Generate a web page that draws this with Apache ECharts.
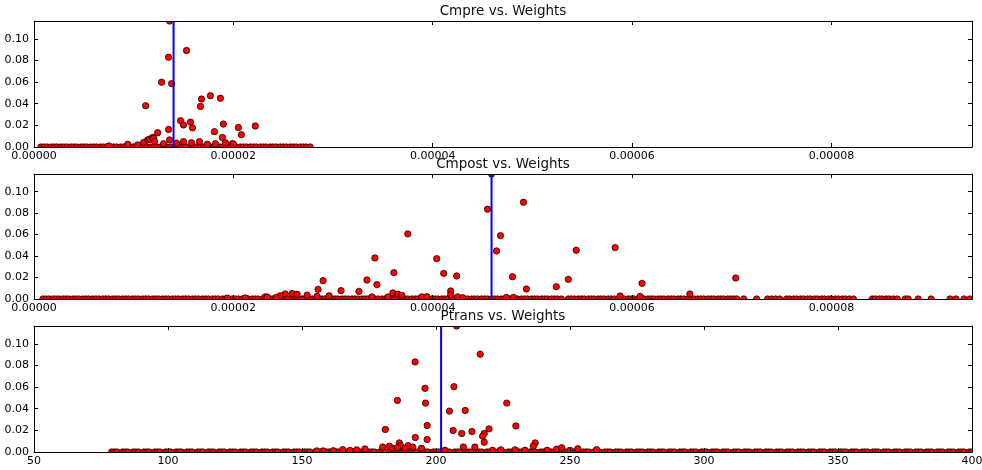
<!DOCTYPE html>
<html>
<head>
<meta charset="utf-8">
<script src="https://cdn.jsdelivr.net/npm/echarts@6/dist/echarts.min.js"></script>
<style>
  html, body { margin: 0; padding: 0; background: #fff; }
  #chart { width: 982px; height: 470px; }
</style>
</head>
<body>
<div id="chart"></div>
<script>
// Cmpre / Cmpost weights are listed in units of 1e-5.
const WEIGHT_UNIT = 1e-5;
const PROB_MAX = 0.1165;

const panelTitles = ['Cmpre vs. Weights', 'Cmpost vs. Weights', 'Ptrans vs. Weights'];

// ---- Cmpre ----
const cmprePeakX = [1.36,1.53,1.35,1.28,1.38,1.12,1.68,1.77,1.87,1.67,1.47,1.50,1.57,1.59,1.35,1.24,1.90,2.05,2.22,2.08,1.81,1.89,
  0.94,1.04,0.75,1.10,1.14,1.16,1.19,1.20,1.21,1.36,1.50,1.66,1.82,1.92,1.99,1.30,1.43,1.58,1.74,2.00];
const cmprePeakY = [0.1165,0.0892,0.0830,0.0599,0.0586,0.0382,0.0444,0.0474,0.0451,0.0375,0.0244,0.0204,0.0230,0.0177,0.0162,0.0132,0.0212,0.0180,0.0194,0.0114,0.0142,0.0088,
  0.0025,0.0020,0.0010,0.0043,0.0065,0.0072,0.0088,0.0080,0.0052,0.0065,0.0050,0.0050,0.0030,0.0040,0.0030,0.0030,0.0035,0.0040,0.0025,0.0028];
// weights whose probability is zero
const cmpreZeroX = [0.07,0.10,0.13,0.17,0.20,0.23,0.27,0.30,0.33,0.37,0.40,0.43,0.47,0.50,0.53,0.57,0.60,0.63,0.67,0.70,0.73,0.77,0.80,0.83,0.87,0.90,0.93,0.97,
  1.00,1.03,1.07,1.10,1.13,1.17,1.20,1.23,1.27,1.30,1.33,1.37,1.40,1.43,1.47,1.50,1.53,1.57,1.60,1.63,1.67,1.70,1.73,1.77,1.80,1.83,1.87,1.90,1.93,1.97,
  2.00,2.03,2.07,2.10,2.13,2.17,2.20,2.23,2.27,2.30,2.33,2.37,2.40,2.43,2.47,2.50,2.53,2.57,2.60,2.63,2.67,2.70,2.73,2.77];
const cmpreMarker = 1.40;

// ---- Cmpost ----
const cmpostPeakX = [4.59,4.55,4.91,4.68,4.64,4.80,4.94,3.75,3.42,4.04,3.61,4.11,4.24,3.34,3.44,2.90,2.85,3.08,3.26,4.18,4.18,5.24,5.36,5.44,5.83,6.10,5.88,6.08,6.58,7.04,
  3.60,3.65,3.69,2.52,2.59,2.64,2.74,2.47,2.84,2.96,2.32,2.34,3.39,3.55,3.89,3.94,4.74,4.81,2.43,1.94,2.12,4.25,4.30];
const cmpostPeakY = [0.1165,0.0837,0.0902,0.0591,0.0448,0.0208,0.0093,0.0607,0.0383,0.0376,0.0246,0.0239,0.0215,0.0177,0.0134,0.0171,0.0090,0.0078,0.0071,0.0075,0.0040,0.0115,0.0183,0.0454,0.0479,0.0146,0.0028,0.0024,0.0047,0.0196,
  0.0056,0.0045,0.0034,0.0047,0.0052,0.0044,0.0036,0.0030,0.0025,0.0030,0.0020,0.0018,0.0020,0.0018,0.0020,0.0022,0.0015,0.0015,0.0015,0.0008,0.0010,0.0020,0.0012];
const cmpostZeroX = [0.09,0.12,0.15,0.19,0.22,0.25,0.29,0.32,0.35,0.39,0.42,0.45,0.49,0.52,0.55,0.59,0.62,0.65,0.69,0.72,0.75,0.79,0.82,0.85,0.89,0.92,0.95,0.99,
  1.02,1.05,1.09,1.12,1.15,1.19,1.22,1.25,1.29,1.32,1.35,1.39,1.42,1.45,1.49,1.52,1.55,1.59,1.62,1.65,1.69,1.72,1.75,1.79,1.82,1.85,1.89,1.92,1.95,1.99,
  2.02,2.05,2.09,2.12,2.15,2.19,2.22,2.25,2.29,2.32,2.35,2.39,2.42,2.45,2.49,2.52,2.55,2.59,2.62,2.65,2.69,2.72,2.75,2.79,2.82,2.85,2.89,2.92,2.95,2.99,
  3.02,3.05,3.09,3.12,3.15,3.19,3.22,3.25,3.29,3.32,3.35,3.39,3.42,3.45,3.49,3.52,3.55,3.59,3.62,3.65,3.69,3.72,3.75,3.79,3.82,3.85,3.89,3.92,3.95,3.99,
  4.02,4.05,4.09,4.12,4.15,4.19,4.22,4.25,4.29,4.32,4.35,4.39,4.42,4.45,4.49,4.52,4.55,4.59,4.62,4.65,4.69,4.72,4.75,4.79,4.82,4.85,4.89,4.92,4.95,4.99,
  5.02,5.05,5.09,5.12,5.15,5.19,5.22,5.25,5.29,
  5.36,5.39,5.42,5.46,5.49,5.52,5.56,5.59,5.62,5.66,5.69,5.72,5.76,5.79,5.82,5.86,5.89,5.92,5.96,5.99,
  6.02,6.06,6.09,6.12,6.16,6.19,6.22,6.26,6.29,6.32,6.36,6.39,6.42,6.46,6.49,6.52,6.56,6.59,6.62,6.66,6.69,6.72,6.76,6.79,6.82,6.86,6.89,6.92,6.96,6.99,
  7.02,7.05,7.12,7.25,7.36,7.40,7.44,7.48,
  7.55,7.58,7.62,7.65,7.69,7.72,7.76,7.79,7.83,7.86,7.90,7.93,7.97,8.00,8.04,8.07,8.11,8.14,8.18,8.22,
  8.41,8.44,8.48,8.51,8.55,8.58,8.62,8.66,8.74,8.77,8.87,9.00,9.19,9.25,9.33,9.39];
const cmpostMarker = 4.59;

// ---- Ptrans ----
const ptransPeakX = [207.7,216.5,192.2,195.9,196.1,185.6,206.7,205.0,210.9,196.7,181.1,206.4,209.6,213.4,192.3,196.7,226.4,219.8,218.0,217.4,218.0,229.8,237.0,236.3,210.2,214.5,
  180.1,182.6,183.8,186.3,186.8,189.6,191.3,194.6,185.6,188.4,
  155.5,157.9,161.7,165.2,167.9,170.4,173.5,
  203.3,221.1,224.2,229.5,233.2,241.5,245.0,246.9,250.0,252.9,259.9];
const ptransPeakY = [0.1165,0.0904,0.0833,0.0589,0.0452,0.0477,0.0604,0.0378,0.0384,0.0245,0.0208,0.0199,0.0171,0.0189,0.0134,0.0115,0.0452,0.0214,0.0171,0.0146,0.0090,0.0241,0.0084,0.0053,0.0046,0.0046,
  0.0046,0.0053,0.0034,0.0084,0.0059,0.0059,0.0046,0.0034,0.0040,0.0034,
  0.0010,0.0010,0.0012,0.0022,0.0015,0.0020,0.0028,
  0.0016,0.0016,0.0020,0.0020,0.0016,0.0016,0.0027,0.0040,0.0016,0.0030,0.0022];
const ptransZeroX = [79,80,81,83,84,85,87,88,89,91,92,93,95,96,97,99,100,101,103,104,105,107,108,109,111,112,113,115,116,117,119,120,121,123,124,125,
  127,128,129,131,132,133,135,136,137,139,140,141,143,144,145,147,148,149,151,152,153,155,156,157,159,160,161,163,164,165,167,168,169,171,172,173,
  175,176,177,179,180,181,183,184,185,187,188,189,191,192,193,195,196,197,199,200,201,203,204,205,207,208,209,211,212,213,215,216,217,219,220,221,
  223,224,225,227,228,229,231,232,233,235,236,237,239,240,241,243,244,245,247,248,249,251,252,253,255,256,257,259,260,261,263,264,265,267,268,269,
  271,272,273,275,276,277,279,280,281,283,284,285,287,288,289,291,292,293,295,296,297,299,300,301,303,304,305,307,308,309,311,312,313,315,316,317,
  319,320,321,323,324,325,327,328,329,331,332,333,335,336,337,339,340,341,343,344,345,347,348,349,351,352,353,355,356,357,359,360,361,363,364,365,
  367,368,369,371,372,373,375,376,377,379,380,381,383,384,385,387,388,389,391,392,393,395,396,397,399,400];
const ptransMarker = 201.9;

// ---- layout ----
const PLOT_LEFT = 34, PLOT_RIGHT = 10;
const panels = [
  { top: 21,  height: 126, titleY: 11,
    zeroX: cmpreZeroX.map(v => v * WEIGHT_UNIT), peakX: cmprePeakX.map(v => v * WEIGHT_UNIT), peakY: cmprePeakY,
    marker: cmpreMarker * WEIGHT_UNIT, xMin: 0, xMax: 9.41 * WEIGHT_UNIT, xStep: 2 * WEIGHT_UNIT, xDigits: 5, showMax: false },
  { top: 174, height: 125, titleY: 164,
    zeroX: cmpostZeroX.map(v => v * WEIGHT_UNIT), peakX: cmpostPeakX.map(v => v * WEIGHT_UNIT), peakY: cmpostPeakY,
    marker: cmpostMarker * WEIGHT_UNIT, xMin: 0, xMax: 9.41 * WEIGHT_UNIT, xStep: 2 * WEIGHT_UNIT, xDigits: 5, showMax: false },
  { top: 326, height: 126, titleY: 316.5,
    zeroX: ptransZeroX, peakX: ptransPeakX, peakY: ptransPeakY,
    marker: ptransMarker, xMin: 50, xMax: 400, xStep: 50, xDigits: 0, showMax: true }
];

const FONT = 'DejaVu Sans';
const INK = '#000';

function drawDot(params, api) {
  const p = api.coord([api.value(0), api.value(1)]);
  return {
    type: 'circle',
    shape: { cx: p[0], cy: p[1], r: 3.2 },
    style: { fill: '#ff0000', stroke: '#000', lineWidth: 0.7 }
  };
}

const grid = [], xAxis = [], yAxis = [], series = [], graphic = [];
const tick = { show: true, inside: true, length: 4, lineStyle: { color: INK, width: 1 } };
const frameLine = { show: true, onZero: false, lineStyle: { color: INK, width: 1 } };

panels.forEach((pn, i) => {
  grid.push({ left: PLOT_LEFT, right: PLOT_RIGHT, top: pn.top, height: pn.height,
    containLabel: false, outerBoundsMode: 'none' });
  const xBase = { type: 'value', gridIndex: i, min: pn.xMin, max: pn.xMax, interval: pn.xStep, z: 10,
    splitLine: { show: false }, axisLine: frameLine, axisTick: tick };
  xAxis.push(Object.assign({}, xBase, { position: 'bottom',
    axisLabel: { color: INK, fontSize: 11, fontFamily: FONT, margin: 4, showMinLabel: true, showMaxLabel: pn.showMax,
      hideOverlap: false, formatter: v => v.toFixed(pn.xDigits) } }));
  xAxis.push(Object.assign({}, xBase, { position: 'top', axisLabel: { show: false } }));
  const yBase = { type: 'value', gridIndex: i, min: 0, max: PROB_MAX, interval: 0.02, z: 10,
    splitLine: { show: false }, axisLine: frameLine, axisTick: tick };
  yAxis.push(Object.assign({}, yBase, { position: 'left',
    axisLabel: { color: INK, fontSize: 11, fontFamily: FONT, margin: 5, showMaxLabel: false,
      formatter: v => v.toFixed(2) } }));
  yAxis.push(Object.assign({}, yBase, { position: 'right', axisLabel: { show: false } }));

  const ax = i * 2;
  series.push({
    type: 'custom', xAxisIndex: ax, yAxisIndex: ax, clip: true, silent: true, z: 2,
    encode: { x: 0, y: 1 },
    data: pn.zeroX.map(x => [x, 0]),
    renderItem: drawDot
  });
  series.push({
    type: 'custom', xAxisIndex: ax, yAxisIndex: ax, clip: true, silent: true, z: 3,
    encode: { x: 0, y: 1 },
    data: pn.peakX.map((x, k) => [x, pn.peakY[k]]),
    renderItem: drawDot
  });
  series.push({
    type: 'line', xAxisIndex: ax, yAxisIndex: ax, silent: true, z: 4,
    symbol: 'none', animation: false,
    lineStyle: { color: '#0000ff', width: 2 },
    data: [[pn.marker, 0], [pn.marker, PROB_MAX]]
  });

  graphic.push({
    type: 'text', z: 50,
    x: PLOT_LEFT + (982 - PLOT_LEFT - PLOT_RIGHT) / 2, y: pn.titleY,
    style: { text: panelTitles[i], fill: '#111', font: '13.5px "DejaVu Sans"',
      textAlign: 'center', textVerticalAlign: 'middle' }
  });
});

const chart = echarts.init(document.getElementById('chart'), null, { renderer: 'canvas' });
chart.setOption({
  animation: false,
  backgroundColor: '#fff',
  grid, xAxis, yAxis, series, graphic
});
</script>
</body>
</html>
